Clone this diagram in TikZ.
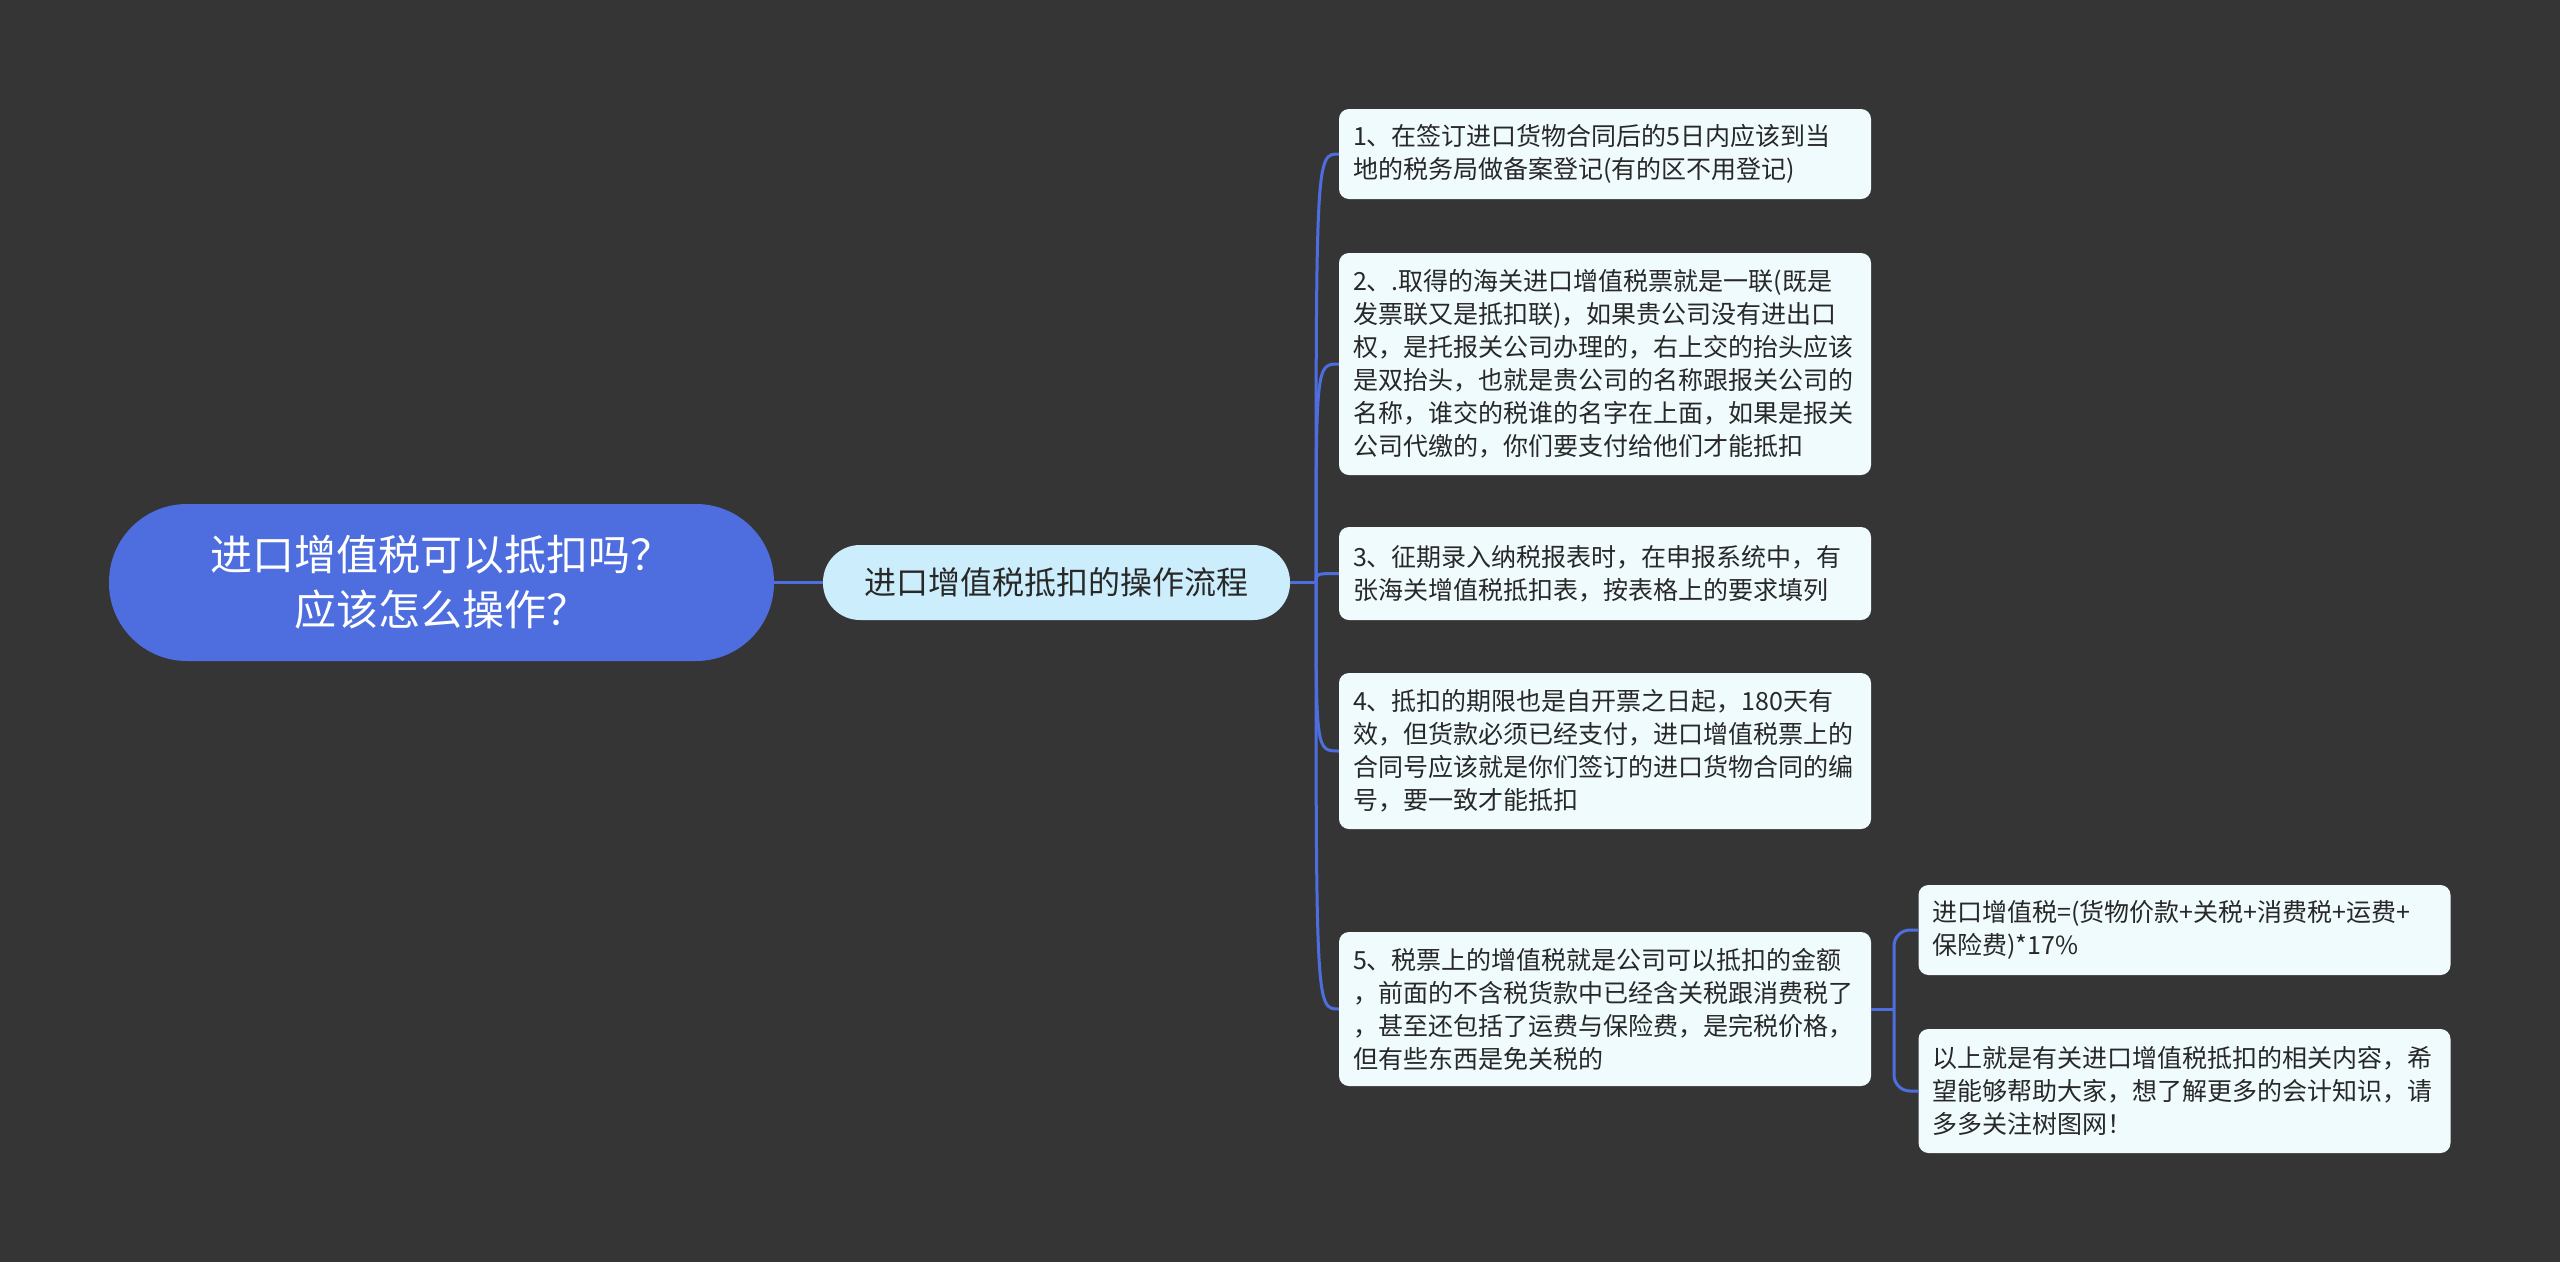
\documentclass[tikz,border=0pt]{standalone}
\usepackage{fontspec}
\setmainfont{Noto Sans CJK SC}
\definecolor{bg}{RGB}{54,53,54}
\definecolor{rootfill}{RGB}{78,110,224}
\definecolor{subfill}{RGB}{204,238,252}
\definecolor{leaffill}{RGB}{240,251,253}
\definecolor{leaftext}{RGB}{40,40,40}
\definecolor{linkblue}{RGB}{78,110,224}
\begin{document}
\begin{tikzpicture}[x=1pt,y=-1pt,
  conn/.style={draw=linkblue, line width=3pt},
  rootbox/.style={fill=rootfill, rounded corners=78pt, minimum width=665pt, minimum height=157pt,
    align=center, text=white, font=\fontsize{42}{55}\selectfont},
  subbox/.style={fill=subfill, rounded corners=37pt, minimum width=467pt, minimum height=75pt,
    align=center, text=leaftext, font=\fontsize{32}{40}\selectfont},
  leafbox/.style={fill=leaffill, rounded corners=10pt, text width=504pt, inner xsep=14pt, inner ysep=0pt,
    align=left, text=leaftext, font=\fontsize{25}{33}\selectfont}
]
\fill[bg] (0,0) rectangle (2560,1262);
\useasboundingbox (0,0) rectangle (2560,1262);

\node[rootbox] (root) at (441.5,582.5) {进口增值税可以抵扣吗？\\应该怎么操作？};
\node[subbox] (sub) at (1056.5,582.5) {进口增值税抵扣的操作流程};

\node[leafbox, minimum height=90pt] (l1) at (1605,154) {1、在签订进口货物合同后的5日内应该到当\\地的税务局做备案登记(有的区不用登记)};
\node[leafbox, minimum height=222pt] (l2) at (1605,364) {2、.取得的海关进口增值税票就是一联(既是\\发票联又是抵扣联)，如果贵公司没有进出口\\权，是托报关公司办理的，右上交的抬头应该\\是双抬头，也就是贵公司的名称跟报关公司的\\名称，谁交的税谁的名字在上面，如果是报关\\公司代缴的，你们要支付给他们才能抵扣};
\node[leafbox, minimum height=93pt] (l3) at (1605,573.5) {3、征期录入纳税报表时，在申报系统中，有\\张海关增值税抵扣表，按表格上的要求填列};
\node[leafbox, minimum height=156pt] (l4) at (1605,751) {4、抵扣的期限也是自开票之日起，180天有\\效，但货款必须已经支付，进口增值税票上的\\合同号应该就是你们签订的进口货物合同的编\\号，要一致才能抵扣};
\node[leafbox, minimum height=154pt] (l5) at (1605,1009) {5、税票上的增值税就是公司可以抵扣的金额\\，前面的不含税货款中已经含关税跟消费税了\\，甚至还包括了运费与保险费，是完税价格，\\但有些东西是免关税的};
\node[leafbox, minimum height=90pt] (l6) at (2184.5,930) {进口增值税=(货物价款+关税+消费税+运费+\\保险费)*17\%};
\node[leafbox, minimum height=124pt] (l7) at (2184.5,1091) {以上就是有关进口增值税抵扣的相关内容，希\\望能够帮助大家，想了解更多的会计知识，请\\多多关注树图网！};

\coordinate (j) at (1316,582.5);
\coordinate (k) at (1894,1009);
\draw[conn] (root.east) -- (sub.west);
\draw[conn] (sub.east) -- (j);
\foreach \l in {l1,l2,l3,l4,l5}
  \draw[conn] (j) .. controls (j |- \l.west) .. (\l.west);
\draw[conn] (l5.east) -- (k);
\draw[conn, rounded corners=16pt] (l6.west) -| (k) |- (l7.west);
\end{tikzpicture}
\end{document}
